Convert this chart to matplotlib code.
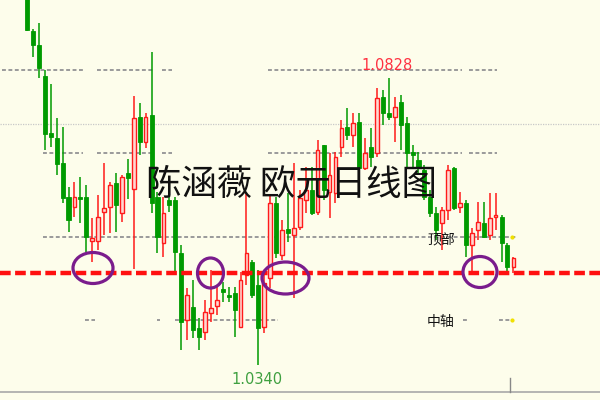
import matplotlib.pyplot as plt
from matplotlib.patches import Ellipse
import numpy as np

plt.rcParams['font.family'] = ['Noto Sans CJK SC', 'DejaVu Sans']

# EUR/USD 日线 OHLC
opens = [1.0975, 1.0908, 1.0885, 1.0832, 1.0735, 1.0726, 1.0684, 1.0626, 1.0609, 1.0626,
         1.0626, 1.0551, 1.0551, 1.0601, 1.0609, 1.0650, 1.0599, 1.0667, 1.0640, 1.0762,
         1.0720, 1.0765, 1.0626, 1.0548, 1.0621, 1.0621, 1.0531, 1.0417, 1.0439, 1.0403,
         1.0397, 1.0429, 1.0441, 1.0470, 1.0460, 1.0463, 1.0405, 1.0493, 1.0516, 1.0477,
         1.0405, 1.0488, 1.0616, 1.0527, 1.0572, 1.0562, 1.0575, 1.0621, 1.0638, 1.0601,
         1.0715, 1.0635, 1.0633, 1.0711, 1.0745, 1.0731, 1.0754, 1.0675, 1.0711, 1.0701,
         1.0796, 1.0769, 1.0762, 1.0788, 1.0752, 1.0703, 1.0689, 1.0672, 1.0626, 1.0599,
         1.0582, 1.0604, 1.0675, 1.0609, 1.0616, 1.0545, 1.0570, 1.0582, 1.0562, 1.0592,
         1.0592, 1.0545, 1.0507]
highs = [1.0985, 1.0912, 1.0922, 1.0842, 1.0818, 1.0760, 1.0745, 1.0643, 1.0652, 1.0660,
         1.0646, 1.0590, 1.0629, 1.0684, 1.0652, 1.0667, 1.0663, 1.0691, 1.0798, 1.0786,
         1.0769, 1.0873, 1.0635, 1.0626, 1.0626, 1.0626, 1.0545, 1.0471, 1.0485, 1.0420,
         1.0451, 1.0502, 1.0473, 1.0482, 1.0473, 1.0473, 1.0499, 1.0635, 1.0519, 1.0502,
         1.0497, 1.0629, 1.0626, 1.0587, 1.0633, 1.0684, 1.0638, 1.0677, 1.0677, 1.0723,
         1.0715, 1.0701, 1.0703, 1.0757, 1.0777, 1.0769, 1.0769, 1.0726, 1.0743, 1.0811,
         1.0808, 1.0828, 1.0796, 1.0799, 1.0762, 1.0715, 1.0703, 1.0680, 1.0638, 1.0609,
         1.0609, 1.0680, 1.0677, 1.0635, 1.0621, 1.0573, 1.0618, 1.0618, 1.0633, 1.0633,
         1.0596, 1.0548, 1.0524]
lows = [1.0909, 1.0864, 1.0828, 1.0706, 1.0711, 1.0663, 1.0616, 1.0567, 1.0592, 1.0582,
        1.0533, 1.0516, 1.0536, 1.0561, 1.0565, 1.0567, 1.0584, 1.0623, 1.0504, 1.0697,
        1.0709, 1.0599, 1.0531, 1.0524, 1.0601, 1.0499, 1.0366, 1.0383, 1.0386, 1.0366,
        1.0383, 1.0414, 1.0425, 1.0448, 1.0448, 1.0388, 1.0403, 1.0477, 1.0454, 1.0340,
        1.0395, 1.0471, 1.0522, 1.0519, 1.0550, 1.0454, 1.0570, 1.0599, 1.0596, 1.0596,
        1.0621, 1.0590, 1.0616, 1.0694, 1.0723, 1.0711, 1.0660, 1.0672, 1.0677, 1.0694,
        1.0748, 1.0757, 1.0720, 1.0706, 1.0677, 1.0675, 1.0667, 1.0621, 1.0592, 1.0553,
        1.0536, 1.0587, 1.0604, 1.0599, 1.0524, 1.0497, 1.0553, 1.0556, 1.0553, 1.0570,
        1.0516, 1.0497, 1.0497]
closes = [1.0910, 1.0885, 1.0845, 1.0733, 1.0728, 1.0682, 1.0624, 1.0587, 1.0626, 1.0623,
          1.0558, 1.0556, 1.0592, 1.0607, 1.0646, 1.0612, 1.0660, 1.0658, 1.0760, 1.0720,
          1.0762, 1.0616, 1.0558, 1.0599, 1.0612, 1.0533, 1.0414, 1.0460, 1.0400, 1.0388,
          1.0431, 1.0437, 1.0451, 1.0465, 1.0456, 1.0434, 1.0485, 1.0531, 1.0460, 1.0403,
          1.0480, 1.0616, 1.0531, 1.0570, 1.0565, 1.0573, 1.0624, 1.0638, 1.0599, 1.0706,
          1.0638, 1.0664, 1.0694, 1.0743, 1.0731, 1.0752, 1.0675, 1.0701, 1.0694, 1.0794,
          1.0769, 1.0762, 1.0779, 1.0748, 1.0701, 1.0697, 1.0675, 1.0626, 1.0599, 1.0570,
          1.0604, 1.0672, 1.0607, 1.0616, 1.0545, 1.0565, 1.0584, 1.0558, 1.0590, 1.0596,
          1.0548, 1.0507, 1.0522]

# 水平位
grey_levels = [1.0842, 1.0701, 1.0558, 1.0417]
dotted_level = 1.0750
support_level = 1.0497

title = '陈涵薇 欧元日线图'
label_top = '顶部'
label_mid = '中轴'

W, H = 600, 400
bg = '#FDFDEB'
green = '#009A00'
red = '#FF1A1A'

fig = plt.figure(figsize=(6, 4), dpi=100, facecolor=bg)
ax = fig.add_axes([0, 0, 1, 1], facecolor=bg)
ax.set_xlim(-4.55, 96.6)
ax.set_ylim(1.0281, 1.0961)
ax.axis('off')

def px(x, y):
    # 像素坐标 -> 轴坐标
    return x / W, 1 - y / H

# 灰色虚线段 (像素范围)
segs = [
    [(2, 83), (97, 153), (162, 172), (268, 462), (469, 497)],
    [(43, 83), (97, 153), (162, 172), (268, 462), (469, 497)],
    [(43, 517)],
    [(85, 95), (157, 160), (175, 278), (463, 467), (499, 510)],
]
for lvl, s in zip(grey_levels, segs):
    for a, b in s:
        ax.axhline(lvl, xmin=a / W, xmax=b / W, color='#9A9A9A', lw=1.4,
                   dashes=(2, 1.3), zorder=1)
ax.axhline(dotted_level, color='#C8C8C8', lw=0.9, dashes=(1, 1), zorder=1)

# K线
x = np.arange(len(opens))
o = np.array(opens); c = np.array(closes)
up = c > o
cols = np.where(up, red, green)
ax.vlines(x, lows, highs, colors=cols, lw=1.1, zorder=2)
bottom = np.minimum(o, c)
height = np.maximum(np.abs(c - o), 0.00015)
ax.bar(x[~up], height[~up], bottom=bottom[~up], width=0.68,
       color=green, edgecolor=green, lw=0.6, zorder=3)
ax.bar(x[up], height[up], bottom=bottom[up], width=0.62,
       color='#FFD8D0', edgecolor=red, lw=1.0, zorder=3)

# 红色支撑线
ax.axhline(support_level, color='#FF1010', lw=3.2, dashes=(2.4, 1.0), zorder=4)

# 紫色圈
for cx, cy, w, h in [(93, 268, 40, 31), (210.5, 273, 26, 30),
                     (285.5, 278, 47, 32), (480, 272, 34, 31)]:
    ax.add_patch(Ellipse(px(cx, cy), w / W, h / H, transform=ax.transAxes,
                         fill=False, edgecolor='#7A1C8C', lw=2.3, zorder=5))

# 高低点标注 (反弹高点与最低点)
ih = int(np.argmax(highs[40:])) + 40
il = int(np.argmin(lows))
ax.annotate(f'{highs[ih]:.4f}', (x[ih], highs[ih]), xytext=(-1, 4),
            textcoords='offset points', ha='center', va='bottom',
            color='#FF3040', fontsize=10.5, family='DejaVu Sans')
ax.annotate(f'{lows[il]:.4f}', (x[il], lows[il]), xytext=(-1, -5),
            textcoords='offset points', ha='center', va='top',
            color='#3FA040', fontsize=10.5, family='DejaVu Sans')

ax.text(*px(291, 184), title, transform=ax.transAxes, ha='center', va='center',
        fontsize=25.5, fontweight='light', color='#111111', zorder=6)
ax.text(*px(441, 240), label_top, transform=ax.transAxes, ha='center', va='center',
        fontsize=10, color='#111111', zorder=6)
ax.text(*px(441, 322), label_mid, transform=ax.transAxes, ha='center', va='center',
        fontsize=10, color='#111111', zorder=6)

# 底部轴线与小刻度
ax.axhline(1.0961 - 0.00017 * 392, color='#A8A8A8', lw=1.2, zorder=1)
ax.plot([510 / W, 510 / W], [1 - 378 / H, 1 - 392 / H], transform=ax.transAxes,
        color='#888888', lw=1)
ax.scatter([512 / W, 512 / W], [1 - 237 / H, 1 - 320 / H], transform=ax.transAxes,
           s=4, color='#F0E000', zorder=6)

fig.savefig('out.png', dpi=100, facecolor=bg)
